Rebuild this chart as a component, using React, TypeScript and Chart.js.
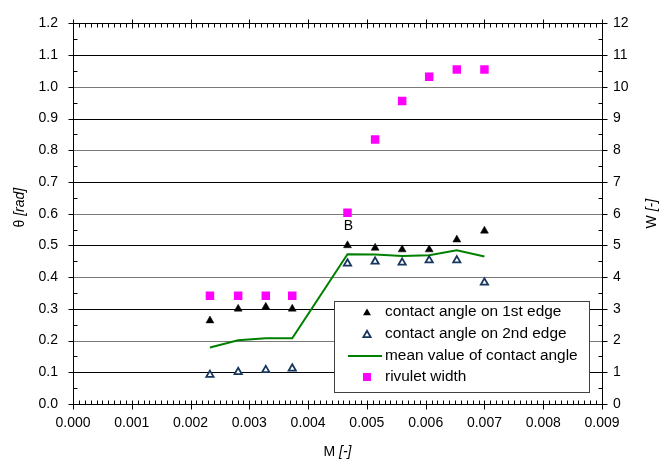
import React, { useEffect, useRef } from 'react';
import { Chart, registerables } from 'chart.js';

Chart.register(...registerables);

// ---- data ----
const massFlow = [0.00233, 0.00281, 0.00328, 0.00373, 0.00467, 0.00514, 0.0056, 0.00606, 0.00653, 0.007];
const angleEdge1 = [0.263, 0.3, 0.306, 0.3, 0.5, 0.492, 0.487, 0.487, 0.518, 0.546];
const angleEdge2 = [0.092, 0.101, 0.107, 0.112, 0.443, 0.449, 0.446, 0.453, 0.453, 0.383];
const angleMean = [0.178, 0.201, 0.207, 0.207, 0.472, 0.471, 0.467, 0.469, 0.485, 0.465];
const rivuletWidth = [3.41, 3.41, 3.41, 3.41, 6.03, 8.34, 9.55, 10.32, 10.55, 10.55];

const seriesLabels = [
  'contact angle on 1st edge',
  'contact angle on 2nd edge',
  'mean value of contact angle',
  'rivulet width',
];
const annotationText = 'B';
const annotationIndex = 4;

const xRange = [0, 0.009];
const xStep = 0.001;
const xMinorStep = 0.0001;
const thetaRange = [0, 1.2];
const thetaStep = 0.1;
const widthRange = [0, 12];
const widthStep = 1;

const xTitle = ['M ', '[-]'];
const yTitle = ['θ ', '[rad]'];
const y2Title = ['W ', '[-]'];

const FONT = '"Liberation Sans", Arial, sans-serif';

function pts(xs: number[], ys: number[]) {
  return xs.map((x, i) => ({ x, y: ys[i] }));
}

function drawTri(ctx: CanvasRenderingContext2D, x: number, y: number, r: number) {
  ctx.beginPath();
  ctx.moveTo(x, y - r);
  ctx.lineTo(x + 0.866 * r, y + 0.5 * r);
  ctx.lineTo(x - 0.866 * r, y + 0.5 * r);
  ctx.closePath();
}

function drawMixed(ctx: CanvasRenderingContext2D, parts: string[], cx: number, cy: number, rot: number, size: number) {
  ctx.save();
  ctx.translate(cx, cy);
  ctx.rotate(rot);
  ctx.fillStyle = '#000';
  ctx.textBaseline = 'middle';
  ctx.textAlign = 'left';
  const f0 = `${size}px ${FONT}`;
  const f1 = `italic ${size}px ${FONT}`;
  ctx.font = f0;
  const w0 = ctx.measureText(parts[0]).width;
  ctx.font = f1;
  const w1 = ctx.measureText(parts[1]).width;
  const start = -(w0 + w1) / 2;
  ctx.font = f0;
  ctx.fillText(parts[0], start, 0);
  ctx.font = f1;
  ctx.fillText(parts[1], start + w0, 0);
  ctx.restore();
}

const framePlugin = {
  id: 'frame',
  beforeDatasetsDraw(chart: any) {
    const ctx: CanvasRenderingContext2D = chart.ctx;
    const { left, right, top, bottom } = chart.chartArea;
    const xs = chart.scales.x;
    const ys = chart.scales.y;
    const L = Math.round(left) + 0.5;
    const R = Math.round(right) + 0.5;
    const T = Math.round(top) + 0.5;
    const B = Math.round(bottom) + 0.5;
    ctx.save();
    ctx.lineWidth = 1;
    // horizontal grid lines
    const nY = Math.round((thetaRange[1] - thetaRange[0]) / thetaStep);
    for (let i = 1; i < nY; i++) {
      const y = Math.round(ys.getPixelForValue(thetaRange[0] + i * thetaStep)) + 0.5;
      ctx.strokeStyle = i % 2 === 1 ? '#000' : '#7a7a7a';
      ctx.beginPath();
      ctx.moveTo(L, y);
      ctx.lineTo(R, y);
      ctx.stroke();
    }
    ctx.strokeStyle = '#000';
    // box
    ctx.beginPath();
    ctx.moveTo(L, T);
    ctx.lineTo(R, T);
    ctx.lineTo(R, B);
    ctx.lineTo(L, B);
    ctx.closePath();
    ctx.stroke();
    // vertical axes ticks
    for (let i = 0; i <= nY; i++) {
      const y = Math.round(ys.getPixelForValue(thetaRange[0] + i * thetaStep)) + 0.5;
      ctx.beginPath();
      ctx.moveTo(L - 5, y);
      ctx.lineTo(L, y);
      ctx.moveTo(R, y);
      ctx.lineTo(R + 5, y);
      ctx.stroke();
      if (i < nY) {
        const ym = Math.round(ys.getPixelForValue(thetaRange[0] + (i + 0.5) * thetaStep)) + 0.5;
        ctx.beginPath();
        ctx.moveTo(L, ym);
        ctx.lineTo(L + 4, ym);
        ctx.moveTo(R - 4, ym);
        ctx.lineTo(R, ym);
        ctx.stroke();
      }
    }
    // horizontal axes ticks
    const nX = Math.round((xRange[1] - xRange[0]) / xMinorStep);
    const per = Math.round(xStep / xMinorStep);
    for (let i = 0; i <= nX; i++) {
      const x = Math.round(xs.getPixelForValue(xRange[0] + i * xMinorStep)) + 0.5;
      ctx.beginPath();
      if (i % per === 0) {
        ctx.moveTo(x, B - 4);
        ctx.lineTo(x, B + 5);
        ctx.moveTo(x, T - 4);
        ctx.lineTo(x, T + 5);
      } else {
        ctx.moveTo(x, B - 4);
        ctx.lineTo(x, B);
        ctx.moveTo(x, T);
        ctx.lineTo(x, T + 4);
      }
      ctx.stroke();
    }
    ctx.restore();
  },
  afterDatasetsDraw(chart: any) {
    const ctx: CanvasRenderingContext2D = chart.ctx;
    const xs = chart.scales.x;
    const y2 = chart.scales.y2;
    const { left, right, top, bottom } = chart.chartArea;
    ctx.save();
    // annotation
    ctx.font = `14px ${FONT}`;
    ctx.fillStyle = '#000';
    ctx.textAlign = 'center';
    ctx.textBaseline = 'middle';
    ctx.fillText(
      annotationText,
      xs.getPixelForValue(massFlow[annotationIndex]) + 1,
      y2.getPixelForValue(rivuletWidth[annotationIndex]) + 13
    );
    // legend
    const bx = 334.5, by = 301.5, bw = 255, bh = 91;
    ctx.fillStyle = '#fff';
    ctx.fillRect(bx, by, bw, bh);
    ctx.strokeStyle = '#404040';
    ctx.lineWidth = 1;
    ctx.strokeRect(bx, by, bw, bh);
    const rows = [312, 334, 356, 377];
    const mx = 367;
    // 1st edge
    ctx.fillStyle = '#000';
    drawTri(ctx, mx, rows[0] + 1, 4.6);
    ctx.fill();
    // 2nd edge
    drawTri(ctx, mx, rows[1] + 1, 4.2);
    ctx.fillStyle = '#fff';
    ctx.fill();
    ctx.strokeStyle = '#17375e';
    ctx.lineWidth = 1.8;
    ctx.stroke();
    // mean line
    ctx.strokeStyle = '#008000';
    ctx.lineWidth = 2;
    ctx.beginPath();
    ctx.moveTo(348, rows[2]);
    ctx.lineTo(382, rows[2]);
    ctx.stroke();
    // width
    ctx.fillStyle = '#ff00ff';
    ctx.fillRect(mx - 4, rows[3] - 4, 8, 8);
    ctx.fillStyle = '#000';
    ctx.font = `14px ${FONT}`;
    ctx.textAlign = 'left';
    ctx.textBaseline = 'middle';
    seriesLabels.forEach((s, i) => {
      ctx.save();
      ctx.translate(385, rows[i]);
      ctx.scale(1.1, 1);
      ctx.fillText(s, 0, 0);
      ctx.restore();
    });
    ctx.restore();
    // axis titles
    drawMixed(ctx, xTitle, (left + right) / 2, 452, 0, 14);
    drawMixed(ctx, yTitle, 20, (top + bottom) / 2 - 6, -Math.PI / 2, 14);
    drawMixed(ctx, y2Title, 652, (top + bottom) / 2, -Math.PI / 2, 14);
  },
};

export default function App() {
  const ref = useRef<HTMLCanvasElement | null>(null);
  useEffect(() => {
    document.body.style.margin = '0';
    const canvas = ref.current!;
    const chart = new Chart(canvas, {
      type: 'scatter',
      data: {
        datasets: [
          {
            label: seriesLabels[0],
            data: pts(massFlow, angleEdge1),
            yAxisID: 'y',
            pointStyle: 'triangle',
            pointRadius: 4.6,
            pointBackgroundColor: '#000',
            pointBorderColor: '#000',
            pointBorderWidth: 0.5,
            showLine: false,
            order: 2,
          },
          {
            label: seriesLabels[1],
            data: pts(massFlow, angleEdge2),
            yAxisID: 'y',
            pointStyle: 'triangle',
            pointRadius: 4.2,
            pointBackgroundColor: '#fff',
            pointBorderColor: '#17375e',
            pointBorderWidth: 1.8,
            showLine: false,
            order: 2,
          },
          {
            label: seriesLabels[2],
            data: pts(massFlow, angleMean),
            yAxisID: 'y',
            showLine: true,
            borderColor: '#008000',
            borderWidth: 2,
            pointRadius: 0,
            fill: false,
            tension: 0,
            order: 3,
          },
          {
            label: seriesLabels[3],
            data: pts(massFlow, rivuletWidth),
            yAxisID: 'y2',
            pointStyle: 'rect',
            pointRadius: 6,
            pointBackgroundColor: '#ff00ff',
            pointBorderColor: '#ff00ff',
            pointBorderWidth: 0,
            showLine: false,
            order: 1,
          },
        ],
      },
      options: {
        responsive: false,
        animation: false,
        devicePixelRatio: 1,
        layout: { padding: { top: 12, left: 0, right: 0, bottom: 0 } },
        plugins: {
          legend: { display: false },
          tooltip: { enabled: false },
          title: { display: false },
        },
        scales: {
          x: {
            type: 'linear',
            min: xRange[0],
            max: xRange[1],
            grid: { display: false, drawTicks: false },
            border: { display: false },
            ticks: {
              stepSize: xStep,
              padding: 11,
              color: '#000',
              font: { family: FONT, size: 14 },
              maxRotation: 0,
              autoSkip: false,
              callback: (v: any) => Number(v).toFixed(3),
            },
            afterFit: (s: any) => {
              s.height = 65;
            },
          },
          y: {
            type: 'linear',
            position: 'left',
            min: thetaRange[0],
            max: thetaRange[1],
            grid: { display: false, drawTicks: false },
            border: { display: false },
            ticks: {
              stepSize: thetaStep,
              padding: 15,
              color: '#000',
              font: { family: FONT, size: 14 },
              autoSkip: false,
              callback: (v: any) => Number(v).toFixed(1),
            },
            afterFit: (s: any) => {
              s.width = 73;
            },
          },
          y2: {
            type: 'linear',
            position: 'right',
            min: widthRange[0],
            max: widthRange[1],
            grid: { display: false, drawTicks: false },
            border: { display: false },
            ticks: {
              stepSize: widthStep,
              padding: 11,
              color: '#000',
              font: { family: FONT, size: 14 },
              autoSkip: false,
              callback: (v: any) => String(Math.round(Number(v))),
            },
            afterFit: (s: any) => {
              s.width = 64;
            },
          },
        },
      },
      plugins: [framePlugin],
    });
    return () => chart.destroy();
  }, []);
  return (
    <div style={{ width: 666, height: 469 }}>
      <canvas ref={ref} width={666} height={469} style={{ display: 'block' }} />
    </div>
  );
}
